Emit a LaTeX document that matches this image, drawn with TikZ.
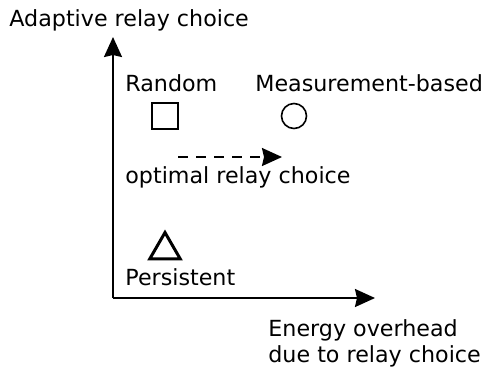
\documentclass[tikz,border=0pt]{standalone}
\usepackage{fontspec}
\setmainfont{DejaVu Sans}
\usetikzlibrary{arrows.meta,shapes.geometric}

\begin{document}
\begin{tikzpicture}[x=0.5pt,y=-0.5pt,
        every node/.style={font=\fontsize{11.1}{13}\selectfont},
        lbl/.style={anchor=base west,inner sep=0pt},
        axis/.style={line width=1pt,-{Stealth[length=10pt,width=9pt,inset=1pt]}},
        symb/.style={draw,line width=0.8pt,inner sep=0pt}]
        \useasboundingbox (0,0) rectangle (483,372);

        % axes
        \coordinate (origin) at (113,298);
        \coordinate (ytip) at (113,37);
        \coordinate (xtip) at (375,298);
        \draw[axis] (origin) -- (ytip);
        \draw[axis] (origin) -- (xtip);
        \node[lbl] (ylabel) at (9,26) {Adaptive relay choice};
        \node[lbl] (xlabel1) at (268,336) {Energy overhead};
        \node[lbl] (xlabel2) at (268,362) {due to relay choice};

        % strategies
        \node[symb,rectangle,minimum size=13pt] (random) at (165,116) {};
        \node[symb,circle,minimum size=12.5pt] (meas) at (294,116) {};
        \node[symb,regular polygon,regular polygon sides=3,line width=1.5pt,minimum size=17.5pt] (persist) at (165,250) {};
        \node[lbl] (randomlbl) at (125,91) {Random};
        \node[lbl] (measlbl) at (255,91) {Measurement-based};
        \node[lbl] (persistlbl) at (125,285) {Persistent};

        % optimal choice
        \coordinate (optstart) at (178,157);
        \coordinate (optend) at (282,157);
        \draw[axis,dash pattern=on 5pt off 4pt] (optstart) -- (optend);
        \node[lbl] (optlbl) at (125,183) {optimal relay choice};
      \end{tikzpicture}
\end{document}
